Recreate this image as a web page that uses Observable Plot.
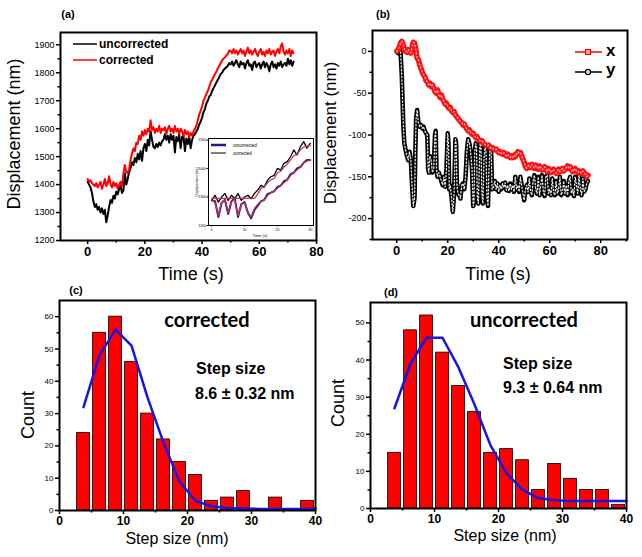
<!DOCTYPE html>
<html><head><meta charset="utf-8">
<script src="https://cdn.jsdelivr.net/npm/d3@7"></script>
<script src="https://cdn.jsdelivr.net/npm/@observablehq/plot@0.6"></script>
<style>
body{margin:0;background:#fff;}
#c{position:relative;width:642px;height:557px;overflow:hidden;background:#fff;}
#c svg{position:absolute;}
</style></head><body><div id="c"></div>
<script>
// ---------- Panel (a): displacement vs time (0.5 s sampling) ----------
const timeA = d3.range(0, 72.5, 0.5);
const uncorrectedA = [1410,1400,1390,1370,1340,1320,1330,1310,1320,1300,1315,1295,1310,1265,1290,1320,1345,1335,1360,1350,
1375,1365,1385,1395,1370,1380,1440,1400,1420,1445,1460,1480,1470,1495,1480,1510,1490,1520,1485,1530,
1545,1520,1560,1540,1590,1560,1535,1530,1545,1535,1550,1540,1555,1560,1580,1560,1575,1550,1580,1560,
1575,1515,1570,1555,1580,1530,1570,1575,1520,1565,1545,1570,1530,1560,1575,1580,1590,1600,1615,1625,
1640,1660,1670,1690,1700,1715,1720,1735,1745,1755,1765,1775,1785,1795,1800,1810,1815,1820,1825,1835,
1830,1840,1825,1835,1845,1830,1820,1840,1830,1835,1815,1835,1845,1825,1830,1810,1835,1840,1820,1830,
1835,1815,1830,1840,1820,1835,1825,1805,1830,1840,1820,1830,1815,1835,1825,1840,1820,1830,1835,1825,
1850,1830,1845,1825,1840];
const correctedA = [1420,1410,1415,1405,1400,1395,1405,1390,1400,1410,1385,1400,1420,1395,1405,1430,1400,1390,1410,1395,
1405,1385,1400,1410,1395,1440,1470,1445,1440,1455,1490,1510,1530,1520,1550,1545,1575,1560,1590,1575,
1595,1580,1600,1590,1630,1595,1605,1585,1600,1590,1610,1585,1600,1595,1605,1580,1600,1610,1590,1600,
1585,1610,1590,1600,1580,1600,1590,1575,1595,1580,1590,1570,1585,1575,1590,1600,1610,1630,1650,1665,
1680,1700,1710,1725,1735,1750,1765,1775,1785,1795,1805,1815,1825,1835,1845,1850,1855,1862,1868,1880,
1878,1870,1885,1870,1880,1865,1875,1885,1870,1880,1860,1875,1890,1870,1880,1865,1875,1885,1870,1860,
1875,1885,1865,1875,1860,1880,1870,1885,1865,1875,1880,1860,1875,1885,1870,1895,1905,1875,1865,1880,
1870,1885,1860,1880,1870];
const yTicksA = [1200,1300,1400,1500,1600,1700,1800,1900];
const yMinorA = [1250,1350,1450,1550,1650,1750,1850];
const xTicksA = [0,20,40,60,80];
const xMinorA = [10,30,50,70];
const seriesNamesA = ["uncorrected","corrected"];

// ---------- Inset of (a) (arbitrary units) ----------
const insetT = d3.range(0, 31, 1);
const insetCorr = [0.88,1.06,0.82,1.0,1.12,0.88,1.06,0.94,1.12,0.88,1.0,1.06,0.94,1.12,1.24,1.41,1.35,1.59,1.71,1.76,2.0,1.94,2.18,2.24,2.41,2.65,2.47,2.76,2.94,2.71,2.88];
const insetCorrFit = [0.95,0.95,0.95,0.95,0.95,0.95,0.95,0.95,0.95,0.95,0.95,0.95,0.95,0.95,1.1,1.3,1.35,1.5,1.6,1.65,1.85,1.9,2.05,2.15,2.3,2.45,2.5,2.65,2.75,2.78,2.8];
const insetUnc = [0.88,0.85,0.3,0.8,0.9,0.4,0.85,0.95,0.3,0.75,0.82,0.45,0.25,0.55,0.7,0.85,0.9,1.1,1.15,1.2,1.35,1.4,1.55,1.6,1.8,1.85,2.0,2.05,2.2,2.3,2.3];
const insetUncFit = [0.9,0.8,0.35,0.8,0.9,0.45,0.85,0.9,0.35,0.75,0.8,0.45,0.3,0.6,0.75,0.85,0.9,1.05,1.15,1.2,1.3,1.4,1.5,1.6,1.75,1.85,1.95,2.05,2.2,2.25,2.3];
const insetYTicks = [0,1,2,3];
const insetYLabels = ["1200","1300","1400","1500"];
const insetXTicks = [0,10,20,30];

// ---------- Panel (b): x and y displacement ----------
const timeB = d3.range(0, 75.5, 0.5);
const xB = [0,2,5,10,12,8,3,0,-1,2,0,-2,5,11,10,2,-8,-10,-16,-20,
-25,-28,-30,-35,-36,-40,-38,-42,-40,-44,-48,-50,-46,-52,-55,-52,-57,-60,-63,-62,
-66,-68,-67,-71,-73,-72,-76,-78,-80,-82,-84,-85,-88,-87,-90,-93,-95,-94,-97,-99,
-98,-101,-103,-102,-105,-106,-108,-107,-110,-111,-112,-113,-112,-114,-116,-115,-117,-118,-117,-119,
-121,-120,-122,-123,-121,-124,-125,-123,-126,-127,-125,-127,-124,-126,-123,-120,-122,-121,-125,-129,
-133,-138,-140,-137,-136,-139,-135,-137,-140,-136,-138,-141,-137,-139,-142,-140,-138,-141,-144,-140,
-142,-145,-143,-141,-144,-146,-143,-141,-144,-142,-140,-143,-141,-139,-137,-140,-138,-141,-144,-142,
-140,-143,-145,-143,-144,-146,-143,-145,-147,-150,-148];
const timeYB = [0,0.5,1,1.5,2,2.3,2.6,3,3.5,4,4.5,5,5.5,6,6.5,7,7.3,7.6,8,8.5,9,9.5,10,10.5,11,11.5,12,12.3,12.6,13,13.5,14,14.5,15,15.3,15.6,16,16.5,17,17.5,18,18.5,19,19.5,20,20.3,20.6,21,21.5,22,22.5,23,23.3,23.6,24,24.5,25,25.5,26,26.5,27,27.5,28,28.5,29,29.5,30,30.3,30.6,31,31.3,31.6,32,32.3,32.6,33,33.4,33.8,34.2,34.6,35,35.4,35.8,36.2,36.6,37,37.4,38,38.5,39,39.5,40,40.5,41,41.5,42,42.5,43,43.5,44,44.5,45,45.5,46,46.5,47,47.5,48,48.5,49,49.5,50,50.5,51,51.5,52,52.5,53,53.5,54,54.5,55,55.5,56,56.5,57,57.5,58,58.5,59,59.5,60,60.5,61,61.5,62,62.5,63,63.5,64,64.5,65,65.5,66,66.5,67,67.5,68,68.5,69,69.5,70,70.5,71,71.5,72,72.5,73,73.5,74,74.5,75];
const yB = [0,-2,1,0,-30,-60,-90,-110,-118,-125,-130,-120,-128,-160,-185,-175,-120,-80,-70,-85,-90,-88,-92,-90,-95,-98,-100,-140,-145,-125,-130,-145,-140,-100,-95,-140,-150,-145,-150,-155,-160,-150,-162,-140,-98,-110,-165,-160,-175,-192,-170,-105,-110,-160,-170,-172,-176,-160,-158,-165,-150,-120,-105,-110,-120,-140,-185,-180,-120,-110,-115,-175,-182,-150,-112,-110,-170,-182,-130,-115,-118,-175,-185,-140,-115,-117,-165,-162,-155,-165,-158,-168,-160,-165,-158,-163,-157,-166,-160,-167,-158,-165,-160,-168,-150,-165,-160,-168,-150,-160,-170,-178,-165,-160,-168,-152,-168,-172,-155,-148,-165,-170,-150,-172,-160,-148,-168,-173,-150,-148,-170,-165,-172,-152,-168,-172,-155,-170,-165,-150,-172,-168,-155,-170,-160,-172,-155,-150,-170,-165,-173,-150,-160,-170,-148,-165,-172,-152,-168,-165,-158,-155];
const yTicksB = [0,-50,-100,-150,-200];
const yMinorB = [-25,-75,-125,-175,-225];
const xTicksB = [0,20,40,60,80];
const xMinorB = [10,30,50,70,90];

// ---------- Panels (c), (d): step-size histograms ----------
const binCenters = [3.75,6.25,8.75,11.25,13.75,16.25,18.75,21.25,23.75,26.25,28.75,31.25,33.75,36.25,38.75];
const countsCorrected = [24,55,60,46,30,22,15,11,3,4,6,0,4,0,3];
const countsUncorrected = [15,48,52,42,33,26,15,16,13,5,12,8,5,5,1];
const fitX = [3.75,6.25,8.75,11.25,13.75,16.25,18.75,21.25,23.75,26.25,28.75,31.25,33.75,36.25,38.75,40];
const fitCorrected = [32,48,56,51,35,21,9,3,1.3,0.8,0.6,0.5,0.5,0.5,0.5,0.6];
const fitUncorrected = [27,39,46,46,38,28,17,9.5,5,2.8,2.2,2,2,2,2,2];
const xTicksH = [0,10,20,30,40];
const xMinorH = [5,15,25,35];
const yTicksC = [0,10,20,30,40,50,60];
const yMinorC = [5,15,25,35,45,55];
const yTicksD = [0,10,20,30,40,50];
const yMinorD = [5,15,25,35,45];
const barWidth = 2.0;

// ---------- helpers ----------
const FONT = "'Liberation Sans', Arial, sans-serif";
const root = document.getElementById("c");
function place(svg, left, top) {
  svg.style.left = left + "px"; svg.style.top = top + "px";
  root.appendChild(svg); return svg;
}
const fmt = d => String(d);
function axes(o) {
  return [
    Plot.axisY(o.yt, {tickSize: 4, tickPadding: 2, fontSize: o.yfs, tickFormat: fmt, label: null, strokeWidth: 1.5}),
    Plot.axisY(o.ym, {tickSize: 2.5, tickFormat: () => "", label: null, strokeWidth: 1.5}),
    Plot.axisX(o.xt, {tickSize: 4, tickFormat: () => "", label: null, strokeWidth: 1.5}),
    Plot.axisX(o.xm, {tickSize: 2.5, tickFormat: () => "", label: null, strokeWidth: 1.5}),
    Plot.text(o.xt, {x: d => d, text: fmt, frameAnchor: "bottom", lineAnchor: "top", dy: 6,
      fontSize: o.xfs, fontWeight: "bold", fill: "black"})
  ];
}
const baseStyle = {fontFamily: FONT, background: "transparent", overflow: "visible", color: "black"};

// ---------- (a) ----------
const rowsUnc = timeA.map((t, i) => ({t, v: uncorrectedA[i]}));
const rowsCor = timeA.map((t, i) => ({t, v: correctedA[i]}));
place(Plot.plot({
  width: 320, height: 290,
  marginLeft: 60, marginRight: 4, marginTop: 32, marginBottom: 50,
  x: {domain: [-9.5, 80]}, y: {domain: [1200, 1944]},
  style: baseStyle,
  marks: [
    Plot.line(rowsUnc, {x: "t", y: "v", stroke: "black", strokeWidth: 2}),
    Plot.line(rowsCor, {x: "t", y: "v", stroke: "#ff0000", strokeWidth: 2}),
    ...axes({yt: yTicksA, ym: yMinorA, xt: xTicksA, xm: xMinorA, yfs: 9, xfs: 13}),
    Plot.frame({stroke: "black", strokeWidth: 2})
  ]
}), 0, 0);

// inset
const insetRows = insetT.map((t, i) => ({t, a: insetCorr[i], af: insetCorrFit[i], b: insetUnc[i], bf: insetUncFit[i]}));
place(Plot.plot({
  width: 122, height: 110,
  marginLeft: 13, marginRight: 4, marginTop: 8, marginBottom: 15,
  x: {domain: [-1, 31]}, y: {domain: [0, 3.05]},
  style: baseStyle,
  marks: [
    Plot.frame({fill: "white"}),
    Plot.line(insetRows, {x: "t", y: "b", stroke: "#1c1c8c", strokeWidth: 2}),
    Plot.line(insetRows, {x: "t", y: "a", stroke: "black", strokeWidth: 1.3}),
    Plot.line(insetRows, {x: "t", y: "af", stroke: "#c8334a", strokeWidth: 1.2}),
    Plot.line(insetRows, {x: "t", y: "bf", stroke: "#c8334a", strokeWidth: 1.2}),
    Plot.axisY(insetYTicks, {tickSize: 1.5, tickPadding: 1, fontSize: 3.5, tickFormat: (d, i) => insetYLabels[i], label: null}),
    Plot.axisX(insetXTicks, {tickSize: 1.5, tickPadding: 1, fontSize: 3.5, tickFormat: fmt, label: null}),
    Plot.frame({stroke: "black", strokeWidth: 1})
  ]
}), 195, 130);

// ---------- (b) ----------
const rowsX = timeB.map((t, i) => ({t, v: xB[i]}));
const rowsY = timeYB.map((t, i) => ({t, v: yB[i]}));
place(Plot.plot({
  width: 322, height: 290,
  marginLeft: 52, marginRight: 15, marginTop: 30, marginBottom: 51,
  x: {domain: [-9.5, 90.5]}, y: {domain: [-225, 25]},
  style: baseStyle,
  marks: [
    Plot.line(rowsY, {x: "t", y: "v", stroke: "black", strokeWidth: 4.5}),
    Plot.line(rowsY, {x: "t", y: "v", stroke: "#e8e8e8", strokeWidth: 1.3, strokeDasharray: "1.3,2.2"}),
    Plot.line(rowsX, {x: "t", y: "v", stroke: "#ff1010", strokeWidth: 5.5}),
    Plot.line(rowsX, {x: "t", y: "v", stroke: "#ffc0c0", strokeWidth: 1.2, strokeDasharray: "1.2,2.6"}),
    ...axes({yt: yTicksB, ym: yMinorB, xt: xTicksB, xm: xMinorB, yfs: 9, xfs: 13}),
    Plot.frame({stroke: "black", strokeWidth: 2})
  ]
}), 320, 0);

// ---------- (c), (d) ----------
function histo(counts, fit, yt, ym, ymax, m) {
  const bars = binCenters.map((c, i) => ({x1: c - barWidth / 2, x2: c + barWidth / 2, n: counts[i]}));
  const fitRows = fitX.map((x, i) => ({x, y: fit[i]}));
  return Plot.plot({
    width: m.w, height: 277,
    marginLeft: m.l, marginRight: m.r, marginTop: m.t, marginBottom: m.b,
    x: {domain: [0, 40]}, y: {domain: [0, ymax]},
    style: baseStyle,
    marks: [
      Plot.rectY(bars, {x1: "x1", x2: "x2", y: "n", fill: "#ff0000", stroke: "black", strokeWidth: 0.8}),
      Plot.line(fitRows, {x: "x", y: "y", stroke: "#1515e6", strokeWidth: 2.5}),
      ...axes({yt, ym, xt: xTicksH, xm: xMinorH, yfs: 8, xfs: 12}),
      Plot.frame({stroke: "black", strokeWidth: 2})
    ]
  });
}
place(histo(countsCorrected, fitCorrected, yTicksC, yMinorC, 65, {w: 320, l: 59, r: 5, t: 20, b: 47}), 0, 280);
place(histo(countsUncorrected, fitUncorrected, yTicksD, yMinorD, 55.5, {w: 322, l: 50, r: 16, t: 22, b: 49}), 320, 280);

// ---------- text & legends overlay ----------
const ov = d3.create("svg").attr("width", 642).attr("height", 557)
  .style("left", "0px").style("top", "0px").style("pointer-events", "none")
  .attr("font-family", FONT);
function txt(x, y, s, size, opts = {}) {
  const t = ov.append("text").attr("x", x).attr("y", y).attr("font-size", size)
    .attr("text-anchor", opts.anchor || "middle").attr("dominant-baseline", "middle")
    .attr("font-weight", opts.weight || "normal").attr("fill", "black").text(s);
  if (opts.family) t.attr("font-family", opts.family);
  if (opts.rotate) t.attr("transform", `rotate(-90 ${x} ${y})`);
  return t;
}
txt(68, 15, "(a)", 11, {weight: "bold"});
txt(383, 15, "(b)", 11, {weight: "bold"});
txt(76, 291, "(c)", 11, {weight: "bold"});
txt(391, 293, "(d)", 11, {weight: "bold"});
txt(15, 134, "Displacement (nm)", 18, {rotate: true});
txt(332, 133, "Displacement (nm)", 17, {rotate: true});
txt(191, 275, "Time (s)", 18);
txt(498, 275, "Time (s)", 18);
txt(29, 415, "Count", 18, {rotate: true});
txt(339, 403, "Count", 18, {rotate: true});
txt(177, 540, "Step size (nm)", 16);
txt(505, 537, "Step size (nm)", 16);
// (a) legend
ov.append("line").attr("x1", 73).attr("x2", 97).attr("y1", 44).attr("y2", 44).attr("stroke", "black").attr("stroke-width", 1.5);
ov.append("line").attr("x1", 73).attr("x2", 97).attr("y1", 60).attr("y2", 60).attr("stroke", "#ff0000").attr("stroke-width", 1.5);
txt(99, 45, seriesNamesA[0], 12, {anchor: "start", weight: "bold"});
txt(99, 61, seriesNamesA[1], 12, {anchor: "start", weight: "bold"});
// inset legend
ov.append("line").attr("x1", 211).attr("x2", 226).attr("y1", 145).attr("y2", 145).attr("stroke", "#1c1c8c").attr("stroke-width", 2.5);
ov.append("line").attr("x1", 211).attr("x2", 226).attr("y1", 153).attr("y2", 153).attr("stroke", "black").attr("stroke-width", 1);
txt(233, 145.5, seriesNamesA[0], 4.5, {anchor: "start"});
txt(233, 153.5, seriesNamesA[1], 4.5, {anchor: "start"});
txt(197, 182, "Displacement [nm]", 3.5, {rotate: true});
txt(260, 236, "Time (s)", 4);
// (b) legend
ov.append("line").attr("x1", 575).attr("x2", 602).attr("y1", 52).attr("y2", 52).attr("stroke", "#ff0000").attr("stroke-width", 1.5);
ov.append("rect").attr("x", 585.5).attr("y", 49.5).attr("width", 5).attr("height", 5).attr("fill", "#ffaaaa").attr("stroke", "#ff0000").attr("stroke-width", 1.2);
ov.append("line").attr("x1", 575).attr("x2", 602).attr("y1", 72).attr("y2", 72).attr("stroke", "black").attr("stroke-width", 1.5);
ov.append("circle").attr("cx", 588).attr("cy", 72).attr("r", 2.6).attr("fill", "#ddd").attr("stroke", "black").attr("stroke-width", 1.2);
txt(606, 52, "x", 17, {anchor: "start", weight: "bold"});
txt(606, 71, "y", 17, {anchor: "start", weight: "bold"});
// histogram annotations
txt(207, 322, "corrected", 20, {weight: "bold", family: "Lato, 'Open Sans', sans-serif"});
txt(196, 370, "Step size", 16, {anchor: "start", weight: "bold"});
txt(195, 395, "8.6 \u00b1 0.32 nm", 16, {anchor: "start", weight: "bold"});
txt(524, 322, "uncorrected", 20, {weight: "bold", family: "Lato, 'Open Sans', sans-serif"});
txt(503, 365, "Step size", 16, {anchor: "start", weight: "bold"});
txt(503, 389, "9.3 \u00b1 0.64 nm", 16, {anchor: "start", weight: "bold"});
root.appendChild(ov.node());
</script></body></html>
